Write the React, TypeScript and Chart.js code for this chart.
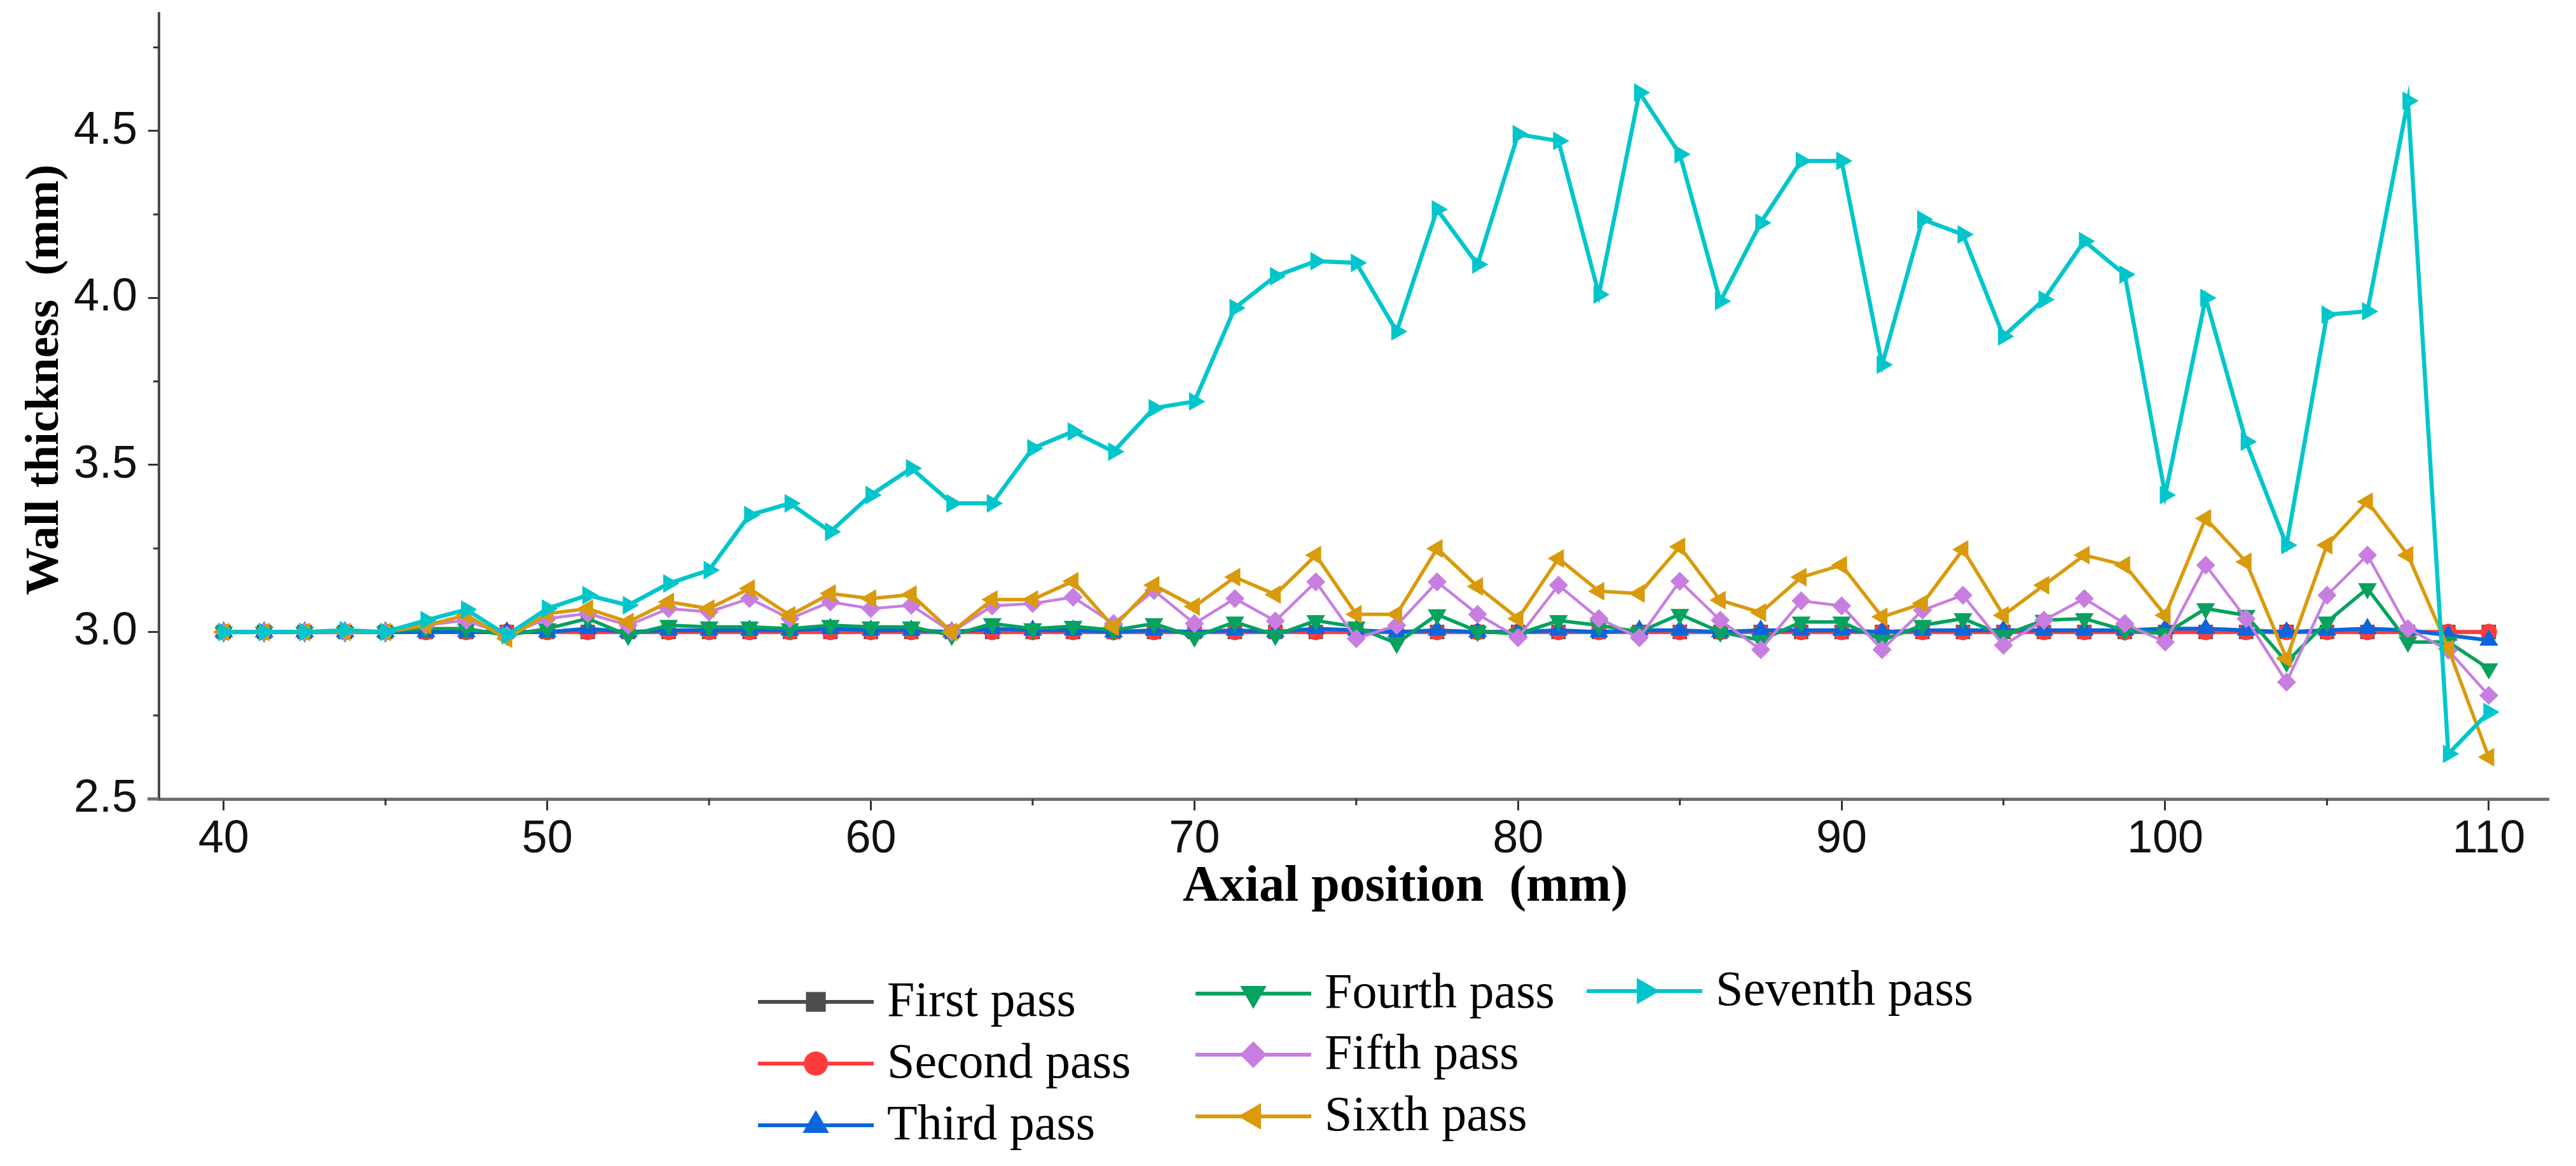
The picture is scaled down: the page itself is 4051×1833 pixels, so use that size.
import React, { useEffect, useRef } from 'react';
import { Chart, registerables } from 'chart.js';
import { drawPoint } from 'chart.js/helpers';

Chart.register(...registerables);

const axialPosition = [
  40, 41.25, 42.5, 43.75, 45, 46.25, 47.5, 48.75, 50, 51.25,
  52.5, 53.75, 55, 56.25, 57.5, 58.75, 60, 61.25, 62.5, 63.75,
  65, 66.25, 67.5, 68.75, 70, 71.25, 72.5, 73.75, 75, 76.25,
  77.5, 78.75, 80, 81.25, 82.5, 83.75, 85, 86.25, 87.5, 88.75,
  90, 91.25, 92.5, 93.75, 95, 96.25, 97.5, 98.75, 100, 101.25,
  102.5, 103.75, 105, 106.25, 107.5, 108.75, 110,
];

const firstPass = [
  3.0, 3.0, 3.0, 3.0, 3.0, 3.0, 3.0, 3.0, 3.0, 3.0,
  3.0, 3.0, 3.0, 3.0, 3.0, 3.0, 3.0, 3.0, 3.0, 3.0,
  3.0, 3.0, 3.0, 3.0, 3.0, 3.0, 3.0, 3.0, 3.0, 3.0,
  3.0, 3.0, 3.0, 3.0, 3.0, 3.0, 3.0, 3.0, 3.0, 3.0,
  3.0, 3.0, 3.0, 3.0, 3.0, 3.0, 3.0, 3.0, 3.0, 3.0,
  3.0, 3.0, 3.0, 3.0, 3.0, 3.0, 3.0,
];

const secondPass = [
  3.0, 3.0, 3.0, 3.0, 3.0, 3.0, 3.0, 3.0, 3.0, 3.0,
  3.0, 3.0, 3.0, 3.0, 3.0, 3.0, 3.0, 3.0, 3.0, 3.0,
  3.0, 3.0, 3.0, 3.0, 3.0, 3.0, 3.0, 3.0, 3.0, 3.0,
  3.0, 3.0, 3.0, 3.0, 3.0, 3.0, 3.0, 3.0, 3.0, 3.0,
  3.0, 3.0, 3.0, 3.0, 3.0, 3.0, 3.0, 3.0, 3.0, 3.0,
  3.0, 3.0, 3.0, 3.0, 3.0, 3.0, 3.0,
];

const thirdPass = [
  3.0, 3.0, 3.0, 3.0, 3.0, 3.0, 3.0, 3.0, 3.0, 3.01,
  3.0, 3.005, 3.005, 3.005, 3.005, 3.01, 3.005, 3.005, 3.0, 3.01,
  3.005, 3.005, 3.0, 3.005, 3.0, 3.005, 3.0, 3.01, 3.005, 3.0,
  3.005, 3.0, 3.0, 3.005, 3.0, 3.005, 3.005, 3.0, 3.005, 3.005,
  3.005, 3.0, 3.005, 3.005, 3.005, 3.005, 3.005, 3.005, 3.01, 3.01,
  3.005, 3.0, 3.005, 3.01, 3.005, 2.99, 2.975,
];

const fourthPass = [
  3.0, 3.0, 3.0, 3.0, 3.0, 3.01, 3.01, 2.99, 3.01, 3.04,
  2.99, 3.02, 3.015, 3.015, 3.01, 3.02, 3.015, 3.015, 2.99, 3.025,
  3.01, 3.017, 3.005, 3.025, 2.985, 3.03, 2.99, 3.034, 3.015, 2.966,
  3.052, 3.002, 2.994, 3.034, 3.02, 3.0, 3.053, 3.0, 2.975, 3.03,
  3.03, 2.975, 3.02, 3.04, 2.99, 3.035, 3.04, 3.005, 2.995, 3.07,
  3.05, 2.91, 3.03, 3.13, 2.97, 2.97, 2.89,
];

const fifthPass = [
  3.0, 3.0, 3.0, 3.0, 3.0, 3.02, 3.035, 2.99, 3.04, 3.055,
  3.02, 3.07, 3.06, 3.1, 3.04, 3.09, 3.07, 3.08, 3.0, 3.078,
  3.085, 3.104, 3.025, 3.124, 3.025, 3.1, 3.033, 3.15, 2.98, 3.02,
  3.15, 3.053, 2.983, 3.14, 3.04, 2.983, 3.152, 3.035, 2.947, 3.093,
  3.078, 2.947, 3.065, 3.11, 2.96, 3.035, 3.1, 3.025, 2.97, 3.2,
  3.04, 2.85, 3.11, 3.23, 3.01, 2.945, 2.81,
];

const sixthPass = [
  3.0, 3.0, 3.0, 3.0, 3.0, 3.02, 3.05, 2.98, 3.055, 3.07,
  3.03, 3.09, 3.07, 3.13, 3.05, 3.115, 3.1, 3.112, 3.0, 3.097,
  3.097, 3.152, 3.015, 3.14, 3.076, 3.164, 3.112, 3.23, 3.053, 3.053,
  3.25, 3.136, 3.04, 3.22, 3.122, 3.115, 3.255, 3.095, 3.058, 3.164,
  3.2, 3.045, 3.085, 3.247, 3.05, 3.14, 3.23, 3.2, 3.05, 3.34,
  3.21, 2.92, 3.26, 3.39, 3.23, 2.95, 2.625,
];

const seventhPass = [
  3.0, 3.0, 3.0, 3.005, 3.0, 3.035, 3.067, 2.99, 3.07, 3.11,
  3.08, 3.145, 3.185, 3.35, 3.385, 3.3, 3.41, 3.49, 3.385, 3.385,
  3.55, 3.6, 3.54, 3.67, 3.69, 3.97, 4.065, 4.11, 4.105, 3.9,
  4.265, 4.1, 4.49, 4.47, 4.01, 4.615, 4.43, 3.99, 4.225, 4.41,
  4.41, 3.8, 4.235, 4.19, 3.885, 3.995, 4.17, 4.07, 3.41, 4.0,
  3.57, 3.26, 3.95, 3.96, 4.59, 2.635, 2.76,
];

const seriesLabels = [
  'First pass', 'Second pass', 'Third pass', 'Fourth pass',
  'Fifth pass', 'Sixth pass', 'Seventh pass',
];
const seriesValues = [firstPass, secondPass, thirdPass, fourthPass, fifthPass, sixthPass, seventhPass];

const xTickValues = [40, 50, 60, 70, 80, 90, 100, 110];
const xMinorTickValues = [45, 55, 65, 75, 85, 95, 105];
const yTickValues = [2.5, 3.0, 3.5, 4.0, 4.5];
const yMinorTickValues = [2.75, 3.25, 3.75, 4.25, 4.75];

const xTitle = 'Axial position  (mm)';
const yTitle = 'Wall thickness  (mm)';

// styles
const seriesColors = ['#4d4d4d', '#ff3c3c', '#0a66da', '#06a25e', '#c87ee0', '#d99a0b', '#00c6cc'];
const seriesPointStyles = ['rect', 'circle', 'triangle', 'triangle', 'rectRot', 'triangle', 'triangle'];
const seriesRotations = [0, 0, 0, 180, 0, 270, 90];
const seriesRadii = [16, 13, 17, 17, 15, 17, 17];
const legendRadii = [22, 19, 24, 24, 21, 24, 24];
const seriesLineWidths = [6, 6, 6, 5.5, 4.5, 5.5, 6.5];

const legendSlots = [
  { x: 1192, y: 1575 }, { x: 1192, y: 1672 }, { x: 1192, y: 1769 },
  { x: 1880, y: 1562 }, { x: 1880, y: 1658 }, { x: 1880, y: 1755 },
  { x: 2495, y: 1558 },
];

const decorPlugin = {
  id: 'decor',
  afterDraw(chart: any) {
    const ctx = chart.ctx as CanvasRenderingContext2D;
    const xs = chart.scales.x;
    const ys = chart.scales.y;
    const area = chart.chartArea;
    ctx.save();
    // x axis extension to the left of y axis
    ctx.strokeStyle = '#6e6e6e';
    ctx.lineWidth = 5;
    ctx.beginPath();
    ctx.moveTo(232, area.bottom);
    ctx.lineTo(area.left, area.bottom);
    ctx.stroke();
    // minor ticks
    ctx.strokeStyle = '#333';
    ctx.lineWidth = 3;
    xMinorTickValues.forEach((v) => {
      const px = xs.getPixelForValue(v);
      ctx.beginPath();
      ctx.moveTo(px, area.bottom);
      ctx.lineTo(px, area.bottom + 10);
      ctx.stroke();
    });
    yMinorTickValues.forEach((v) => {
      const py = ys.getPixelForValue(v);
      ctx.beginPath();
      ctx.moveTo(area.left - 9, py);
      ctx.lineTo(area.left, py);
      ctx.stroke();
    });
    // axis titles
    ctx.fillStyle = '#000';
    ctx.textAlign = 'center';
    ctx.textBaseline = 'middle';
    ctx.font = 'bold 80px "Liberation Serif"';
    ctx.fillText(xTitle, 2210, 1395);
    ctx.save();
    ctx.font = 'bold 75px "Liberation Serif"';
    ctx.translate(72, 597);
    ctx.rotate(-Math.PI / 2);
    ctx.fillText(yTitle, 0, 0);
    ctx.restore();
    // legend
    chart.data.datasets.forEach((ds: any, i: number) => {
      const s = legendSlots[i];
      ctx.save();
      ctx.strokeStyle = ds.borderColor;
      ctx.lineWidth = 6;
      ctx.beginPath();
      ctx.moveTo(s.x, s.y);
      ctx.lineTo(s.x + 182, s.y);
      ctx.stroke();
      ctx.fillStyle = ds.pointBackgroundColor;
      ctx.strokeStyle = ds.pointBorderColor;
      drawPoint(ctx, {
        pointStyle: ds.pointStyle,
        rotation: ds.pointRotation || 0,
        radius: legendRadii[i],
        borderWidth: 0,
      } as any, s.x + 91, s.y);
      ctx.fillStyle = '#000';
      ctx.font = '78px "Liberation Serif"';
      ctx.textAlign = 'left';
      ctx.textBaseline = 'middle';
      ctx.fillText(ds.label, s.x + 203, s.y + 2);
      ctx.restore();
    });
    ctx.restore();
  },
};

export default function App() {
  const canvasRef = useRef<HTMLCanvasElement | null>(null);

  useEffect(() => {
    document.body.style.margin = '0';
    document.body.style.overflow = 'hidden';
    const canvas = canvasRef.current;
    if (!canvas) return;

    const datasets = seriesLabels.map((label, i) => ({
      label,
      data: axialPosition.map((x, j) => ({ x, y: seriesValues[i][j] })),
      borderColor: seriesColors[i],
      backgroundColor: seriesColors[i],
      pointBackgroundColor: seriesColors[i],
      pointBorderColor: seriesColors[i],
      pointBorderWidth: 0,
      pointStyle: seriesPointStyles[i],
      pointRotation: seriesRotations[i],
      pointRadius: seriesRadii[i],
      borderWidth: seriesLineWidths[i],
      tension: 0,
      fill: false,
      order: seriesLabels.length - i,
      clip: false as any,
    }));

    const chart = new Chart(canvas, {
      type: 'line',
      data: { datasets },
      plugins: [decorPlugin],
      options: {
        animation: false,
        responsive: false,
        devicePixelRatio: 1,
        events: [],
        layout: { padding: { left: 0, top: 21, right: 43, bottom: 1833 - 1256 - 120 } },
        plugins: {
          legend: { display: false },
          tooltip: { enabled: false },
          title: { display: false },
        },
        scales: {
          x: {
            type: 'linear',
            min: 38,
            max: 111.85,
            afterBuildTicks: (scale: any) => {
              scale.ticks = xTickValues.map((v) => ({ value: v }));
            },
            afterFit: (scale: any) => {
              scale.height = 120;
              scale.paddingLeft = 0;
              scale.paddingRight = 0;
            },
            ticks: {
              font: { family: '"Liberation Sans"', size: 72 },
              color: '#111',
              padding: 3,
              maxRotation: 0,
              autoSkip: false,
              callback: (v: any) => String(v),
            },
            grid: {
              display: true,
              drawOnChartArea: false,
              drawTicks: true,
              tickLength: 18,
              tickColor: '#333',
              tickWidth: 3,
            },
            border: { display: true, color: '#6e6e6e', width: 5 },
          },
          y: {
            type: 'linear',
            min: 2.5,
            max: 4.852,
            afterBuildTicks: (scale: any) => {
              scale.ticks = yTickValues.map((v) => ({ value: v }));
            },
            afterFit: (scale: any) => {
              scale.width = 250;
              scale.paddingTop = 0;
              scale.paddingBottom = 0;
            },
            ticks: {
              font: { family: '"Liberation Sans"', size: 72 },
              color: '#111',
              padding: 17,
              autoSkip: false,
              callback: (v: any) => Number(v).toFixed(1),
            },
            grid: {
              display: true,
              drawOnChartArea: false,
              drawTicks: true,
              tickLength: 17,
              tickColor: '#333',
              tickWidth: 3,
            },
            border: { display: true, color: '#4a4a4a', width: 4 },
          },
        },
      },
    });

    return () => {
      chart.destroy();
    };
  }, []);

  return (
    <div style={{ width: 4051, height: 1833, background: '#fff' }}>
      <canvas ref={canvasRef} width={4051} height={1833} style={{ display: 'block', width: 4051, height: 1833 }} />
    </div>
  );
}
